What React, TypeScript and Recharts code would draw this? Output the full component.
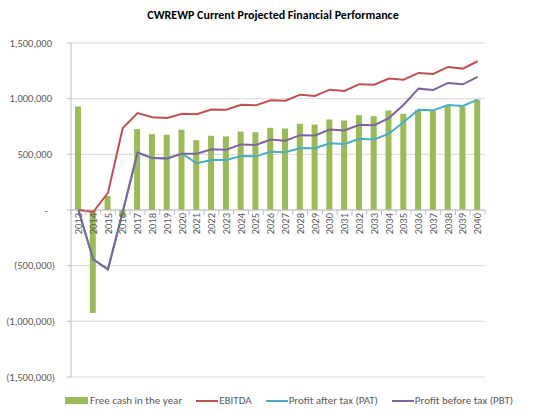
import React from "react";
import {
    ComposedChart,
    Bar,
    Line,
    XAxis,
    YAxis,
    CartesianGrid,
    ReferenceLine,
    ReferenceDot,
    Legend
} from "recharts";

const years = [
    "2013", "2014", "2015", "2016", "2017", "2018", "2019", "2020", "2021", "2022",
    "2023", "2024", "2025", "2026", "2027", "2028", "2029", "2030", "2031", "2032",
    "2033", "2034", "2035", "2036", "2037", "2038", "2039", "2040"
];

const freeCash = [
    930000, -925000, 125000, -60000, 727000, 682000, 676000, 721000, 627000, 667000,
    661000, 704000, 698000, 738000, 732000, 774000, 768000, 813000, 804000, 852000,
    843000, 894000, 864000, 899000, 894000, 936000, 930000, 991000
];

const ebitda = [
    0, -18000, 154000, 736000, 870000, 833000, 827000, 864000, 861000, 903000,
    900000, 945000, 940000, 985000, 982000, 1036000, 1024000, 1081000, 1069000, 1130000,
    1125000, 1180000, 1171000, 1231000, 1222000, 1285000, 1270000, 1336000
];

const pat = [
    0, -443000, -533000, -15000, 515000, 466000, 462000, 506000, 420000, 448000,
    448000, 485000, 482000, 524000, 518000, 557000, 554000, 599000, 593000, 639000,
    634000, 685000, 790000, 901000, 895000, 943000, 934000, 991000
];

const pbt = [
    0, -443000, -533000, -15000, 515000, 466000, 462000, 506000, 506000, 545000,
    542000, 589000, 584000, 633000, 623000, 672000, 669000, 723000, 714000, 765000,
    762000, 826000, 946000, 1090000, 1078000, 1141000, 1129000, 1195000
];

const yTicks = [-1500000, -1000000, -500000, 0, 500000, 1000000, 1500000];

const legendOrder = ["Free cash in the year", "EBITDA", "Profit after tax (PAT)", "Profit before tax (PBT)"];

const data = years.map((year, i) => ({
    year,
    freeCash: freeCash[i],
    ebitda: ebitda[i],
    pat: pat[i],
    pbt: pbt[i]
}));

const FONT = "Carlito, Lato, sans-serif";
const TEXT = "#595959";
const W = 546;
const H = 410;
const X_H = 30;
const M = { top: 43, right: 61, bottom: 33 - X_H, left: 0 };
const Y_W = 71;
const PLOT_W = W - M.left - M.right - Y_W;
const STEP = PLOT_W / years.length;

const fmt = (v: number) => {
    if (v === 0) return "-";
    const s = Math.abs(v).toLocaleString("en-US");
    return v < 0 ? `(${s})` : s;
};

const YTick = (props: any) => {
    const { x, y, payload } = props;
    const v = payload.value;
    const dx = v > 0 ? -3 : v === 0 ? -7 : 0;
    return (
        <text x={x + dx} y={y} dy="0.35em" textAnchor="end" fill={TEXT} fontSize={10.5} fontFamily={FONT}>
            {fmt(v)}
        </text>
    );
};

// category label + tick mark drawn on the zero line, above the series
const yearLabel = (year: string, last: boolean) => (props: any) => {
    const { cx, cy } = props;
    const ty = cy + 3;
    return (
        <g>
            <line x1={cx - STEP / 2} x2={cx - STEP / 2} y1={cy} y2={cy + 5} stroke="#bfbfbf" />
            {last && <line x1={cx + STEP / 2} x2={cx + STEP / 2} y1={cy} y2={cy + 5} stroke="#bfbfbf" />}
            <text
                x={cx}
                y={ty}
                transform={`rotate(-90 ${cx} ${ty})`}
                dy="0.35em"
                textAnchor="end"
                fill={TEXT}
                fontSize={10.5}
                fontFamily={FONT}
            >
                {year}
            </text>
        </g>
    );
};

const LegendContent = (props: any) => {
    const items = [...(props.payload || [])].sort(
        (a: any, b: any) => legendOrder.indexOf(a.value) - legendOrder.indexOf(b.value)
    );
    return (
        <div style={{ display: "flex", alignItems: "center", fontFamily: FONT, fontSize: 11, color: TEXT }}>
            {items.map((it: any) => (
                <div key={it.value} style={{ display: "flex", alignItems: "center", marginRight: 14 }}>
                    {it.type === "rect" ? (
                        <span style={{ display: "inline-block", width: 23, height: 7, background: it.color, marginRight: 2 }} />
                    ) : (
                        <span style={{ display: "inline-block", width: 22, height: 2, background: it.color, marginRight: 1 }} />
                    )}
                    <span>{it.value}</span>
                </div>
            ))}
        </div>
    );
};

export default function App() {
    return (
        <div style={{ position: "absolute", left: 0, top: 0, width: W, height: H, background: "#fff" }}>
            <div
                style={{
                    position: "absolute",
                    top: 8,
                    left: 0,
                    width: W,
                    textAlign: "center",
                    fontFamily: FONT,
                    fontWeight: 700,
                    fontSize: 12,
                    color: "#000"
                }}
            >
                CWREWP Current Projected Financial Performance
            </div>
            <ComposedChart width={W} height={H} data={data} margin={M} barSize={6}>
                <CartesianGrid vertical={false} stroke="#d9d9d9" />
                <XAxis dataKey="year" height={X_H} axisLine={false} tickLine={false} tick={false} />
                <YAxis
                    width={Y_W}
                    domain={[-1500000, 1500000]}
                    ticks={yTicks}
                    stroke="#bfbfbf"
                    tickSize={4}
                    tickMargin={12}
                    tick={<YTick />}
                />
                <ReferenceLine y={0} stroke="#bfbfbf" />
                <Bar dataKey="freeCash" name="Free cash in the year" fill="#9BBB59" legendType="rect" isAnimationActive={false} />
                <Line dataKey="ebitda" name="EBITDA" stroke="#C0504D" strokeWidth={2} dot={false} legendType="line" isAnimationActive={false} />
                <Line dataKey="pat" name="Profit after tax (PAT)" stroke="#4BACC6" strokeWidth={2} dot={false} legendType="line" isAnimationActive={false} />
                <Line dataKey="pbt" name="Profit before tax (PBT)" stroke="#8064A2" strokeWidth={2} dot={false} legendType="line" isAnimationActive={false} />
                {years.map((year, i) => (
                    <ReferenceDot
                        key={year}
                        x={year}
                        y={0}
                        r={0}
                        ifOverflow="visible"
                        shape={yearLabel(year, i === years.length - 1)}
                    />
                ))}
                <Legend
                    verticalAlign="middle"
                    layout="horizontal"
                    content={<LegendContent />}
                    wrapperStyle={{ top: 394, left: 65, width: 480, height: 14 }}
                />
            </ComposedChart>
        </div>
    );
}
